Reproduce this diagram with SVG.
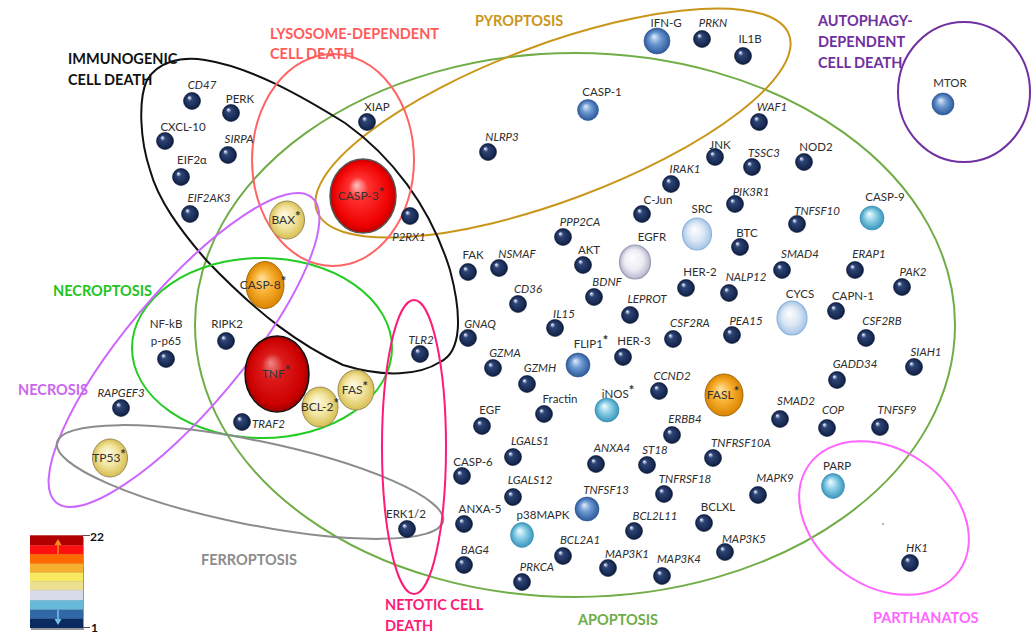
<svg xmlns="http://www.w3.org/2000/svg" width="1035" height="633" viewBox="0 0 1035 633">
<defs>
<radialGradient id="gNavy" cx="0.5" cy="0.5" r="0.5" fx="0.32" fy="0.28"><stop offset="0" stop-color="#ffffff"/><stop offset="0.13" stop-color="#a8b4d0"/><stop offset="0.3" stop-color="#2e4476"/><stop offset="0.85" stop-color="#15284f"/><stop offset="1" stop-color="#0a1838"/></radialGradient>
<radialGradient id="gMed" cx="0.5" cy="0.5" r="0.5" fx="0.38" fy="0.32"><stop offset="0" stop-color="#e2ecf8"/><stop offset="0.45" stop-color="#6d9ad2"/><stop offset="1" stop-color="#2d5a9a"/></radialGradient>
<radialGradient id="gCyan" cx="0.5" cy="0.5" r="0.5" fx="0.38" fy="0.32"><stop offset="0" stop-color="#f6fdff"/><stop offset="0.45" stop-color="#90d2e8"/><stop offset="1" stop-color="#3896bc"/></radialGradient>
<radialGradient id="gPale" cx="0.5" cy="0.5" r="0.5" fx="0.4" fy="0.35"><stop offset="0" stop-color="#ffffff"/><stop offset="0.55" stop-color="#dce8f5"/><stop offset="1" stop-color="#a6c5e6"/></radialGradient>
<radialGradient id="gLav" cx="0.5" cy="0.5" r="0.5" fx="0.4" fy="0.35"><stop offset="0" stop-color="#ffffff"/><stop offset="0.6" stop-color="#ececf4"/><stop offset="1" stop-color="#b6b6cc"/></radialGradient>
<radialGradient id="gYel" cx="0.5" cy="0.5" r="0.5" fx="0.4" fy="0.35"><stop offset="0" stop-color="#fffbe4"/><stop offset="0.55" stop-color="#f2e4a0"/><stop offset="1" stop-color="#d8bf52"/></radialGradient>
<radialGradient id="gOr" cx="0.5" cy="0.5" r="0.5" fx="0.4" fy="0.35"><stop offset="0" stop-color="#ffe2a0"/><stop offset="0.5" stop-color="#f8b030"/><stop offset="1" stop-color="#dc8400"/></radialGradient>
<radialGradient id="gRed" cx="0.5" cy="0.5" r="0.5" fx="0.4" fy="0.35"><stop offset="0" stop-color="#ffc4c4"/><stop offset="0.3" stop-color="#ff3030"/><stop offset="0.85" stop-color="#ee0000"/><stop offset="1" stop-color="#bb0000"/></radialGradient>
<radialGradient id="gDRed" cx="0.5" cy="0.5" r="0.5" fx="0.4" fy="0.35"><stop offset="0" stop-color="#ee8888"/><stop offset="0.35" stop-color="#dc1a1a"/><stop offset="0.85" stop-color="#cc0000"/><stop offset="1" stop-color="#990000"/></radialGradient>
</defs>
<style>
.reg{fill:none;stroke-width:2}
.rt{font-family:Lato,'Liberation Sans',sans-serif;font-weight:bold;font-size:14.5px}
.lb{font-family:Lato,'Liberation Sans',sans-serif;font-size:11.5px;fill:#2e2e2e;text-anchor:middle}
.st{text-anchor:start}
.it{font-style:italic}
.in{font-family:Lato,'Liberation Sans',sans-serif;font-size:12px;fill:#333;text-anchor:middle}
.sup{font-size:13px;font-weight:bold}
.navy{fill:url(#gNavy);stroke:#0a1838;stroke-width:0.6}
.med{fill:url(#gMed);stroke:#2a5090;stroke-width:0.6}
.cyan{fill:url(#gCyan);stroke:#3a8ab0;stroke-width:0.6}
.pale{fill:url(#gPale);stroke:#8eb4dc;stroke-width:1.2}
.lav{fill:url(#gLav);stroke:#9c9cb4;stroke-width:1.2}
.yel{fill:url(#gYel);stroke:#9a8a5a;stroke-width:1}
.or{fill:url(#gOr);stroke:#a06a10;stroke-width:1}
.red{fill:url(#gRed);stroke:#555;stroke-width:1.5}
.dred{fill:url(#gDRed);stroke:#111;stroke-width:1.5}
</style>
<rect width="1035" height="633" fill="#ffffff"/>
<g id="regions">
<g id="region-apoptosis"><ellipse class="reg" cx="575" cy="325" rx="380" ry="272" stroke="#70ad47"/><text class="rt" x="578" y="625" fill="#70ad47">APOPTOSIS</text></g>
<g id="region-pyroptosis"><ellipse class="reg" cx="553" cy="123" rx="252" ry="78" transform="rotate(-20.5 553 123)" stroke="#c9961a"/><text class="rt" x="475" y="26" fill="#c9961a">PYROPTOSIS</text></g>
<g id="region-immunogenic"><path class="reg" stroke="#111" d="M147,80 C158,62 180,56 205,60 C250,67 300,95 345,123 C390,155 430,205 450,270 C462,315 462,352 440,362 C420,375 385,378 343,365 C300,345 260,316 207,261 C180,230 158,200 150,170 C140,140 138,100 147,80 Z"/><text class="rt" x="68" y="64" fill="#111">IMMUNOGENIC</text><text class="rt" x="68" y="85" fill="#111">CELL DEATH</text></g>
<g id="region-lysosome"><ellipse class="reg" cx="333" cy="160" rx="81" ry="106" stroke="#ff6464"/><text class="rt" x="270" y="39" fill="#ff5b5b">LYSOSOME-DEPENDENT</text><text class="rt" x="270" y="59" fill="#ff5b5b">CELL DEATH</text></g>
<g id="region-autophagy"><ellipse class="reg" cx="964" cy="92" rx="66" ry="70" stroke="#7030a0"/><text class="rt" x="818" y="26" fill="#7030a0">AUTOPHAGY-</text><text class="rt" x="818" y="47" fill="#7030a0">DEPENDENT</text><text class="rt" x="818" y="68" fill="#7030a0">CELL DEATH</text></g>
<g id="region-necroptosis"><ellipse class="reg" cx="262" cy="348" rx="130" ry="90" stroke="#22cc22"/><text class="rt" x="53" y="296" fill="#22c422">NECROPTOSIS</text></g>
<g id="region-necrosis"><ellipse class="reg" cx="184" cy="350" rx="199" ry="58" transform="rotate(-50 184 350)" stroke="#cc66ff"/><text class="rt" x="18" y="395" fill="#cc66ee">NECROSIS</text></g>
<g id="region-ferroptosis"><ellipse class="reg" cx="250" cy="482" rx="197" ry="42" transform="rotate(11.5 250 482)" stroke="#8c8c8c"/><text class="rt" x="201" y="565" fill="#8c8c8c">FERROPTOSIS</text></g>
<g id="region-netotic"><ellipse class="reg" cx="414" cy="447" rx="32" ry="147" stroke="#ff1a75"/><text class="rt" x="385" y="610" fill="#ff1a75">NETOTIC CELL</text><text class="rt" x="385" y="631" fill="#ff1a75">DEATH</text></g>
<g id="region-parthanatos"><ellipse class="reg" cx="884" cy="518" rx="92" ry="68" transform="rotate(35 884 518)" stroke="#ff66ff"/><text class="rt" x="873" y="623" fill="#ff66ff">PARTHANATOS</text></g>
</g>
<g id="connectors"/>
<g id="nodes">
<g id="n-CD47"><circle class="navy" cx="192" cy="101" r="8.5"/><text class="lb it" x="202" y="89">CD47</text></g>
<g id="n-PERK"><circle class="navy" cx="231" cy="113" r="8.5"/><text class="lb" x="240" y="103">PERK</text></g>
<g id="n-CXCL-10"><circle class="navy" cx="165" cy="141" r="8.5"/><text class="lb" x="183" y="131">CXCL-10</text></g>
<g id="n-SIRPA"><circle class="navy" cx="228" cy="155" r="8.5"/><text class="lb it" x="239" y="143">SIRPA</text></g>
<g id="n-EIF2a"><circle class="navy" cx="181" cy="177" r="8.5"/><text class="lb" x="192" y="164">EIF2α</text></g>
<g id="n-EIF2AK3"><circle class="navy" cx="190" cy="214" r="8.5"/><text class="lb it" x="209" y="202">EIF2AK3</text></g>
<g id="n-XIAP"><circle class="navy" cx="367" cy="122" r="8.5"/><text class="lb" x="377" y="111">XIAP</text></g>
<g id="n-P2RX1"><circle class="navy" cx="410" cy="216" r="8.5"/><text class="lb it" x="409" y="241">P2RX1</text></g>
<g id="n-NLRP3"><circle class="navy" cx="488" cy="152" r="8.5"/><text class="lb it" x="502" y="141">NLRP3</text></g>
<g id="n-PRKN"><circle class="navy" cx="702" cy="39" r="8.5"/><text class="lb it" x="713" y="27">PRKN</text></g>
<g id="n-IL1B"><circle class="navy" cx="743" cy="56" r="8.5"/><text class="lb" x="750" y="43">IL1B</text></g>
<g id="n-WAF1"><circle class="navy" cx="759" cy="122" r="8.5"/><text class="lb it" x="772" y="111">WAF1</text></g>
<g id="n-JNK"><circle class="navy" cx="715" cy="157" r="8.5"/><text class="lb" x="720" y="149">JNK</text></g>
<g id="n-TSSC3"><circle class="navy" cx="752" cy="167" r="8.5"/><text class="lb it" x="764" y="157">TSSC3</text></g>
<g id="n-NOD2"><circle class="navy" cx="804" cy="162" r="8.5"/><text class="lb" x="816" y="151">NOD2</text></g>
<g id="n-IRAK1"><circle class="navy" cx="671" cy="184" r="8.5"/><text class="lb it" x="685" y="173">IRAK1</text></g>
<g id="n-C-Jun"><circle class="navy" cx="642" cy="214" r="8.5"/><text class="lb" x="658" y="204">C-Jun</text></g>
<g id="n-PIK3R1"><circle class="navy" cx="735" cy="204" r="8.5"/><text class="lb it" x="751" y="196">PIK3R1</text></g>
<g id="n-TNFSF10"><circle class="navy" cx="797" cy="224" r="8.5"/><text class="lb it" x="817" y="215">TNFSF10</text></g>
<g id="n-BTC"><circle class="navy" cx="740" cy="247" r="8.5"/><text class="lb" x="747" y="237">BTC</text></g>
<g id="n-PPP2CA"><circle class="navy" cx="563" cy="237" r="8.5"/><text class="lb it" x="580" y="226">PPP2CA</text></g>
<g id="n-AKT"><circle class="navy" cx="583" cy="265" r="8.5"/><text class="lb" x="589" y="254">AKT</text></g>
<g id="n-FAK"><circle class="navy" cx="468" cy="272" r="8.5"/><text class="lb" x="473" y="259">FAK</text></g>
<g id="n-NSMAF"><circle class="navy" cx="499" cy="268" r="8.5"/><text class="lb it" x="517" y="258">NSMAF</text></g>
<g id="n-CD36"><circle class="navy" cx="518" cy="304" r="8.5"/><text class="lb it" x="528" y="293">CD36</text></g>
<g id="n-BDNF"><circle class="navy" cx="594" cy="297" r="8.5"/><text class="lb it" x="607" y="286">BDNF</text></g>
<g id="n-LEPROT"><circle class="navy" cx="630" cy="315" r="8.5"/><text class="lb it" x="647" y="303">LEPROT</text></g>
<g id="n-HER-2"><circle class="navy" cx="686" cy="288" r="8.5"/><text class="lb" x="700" y="276">HER-2</text></g>
<g id="n-NALP12"><circle class="navy" cx="729" cy="293" r="8.5"/><text class="lb it" x="746" y="281">NALP12</text></g>
<g id="n-SMAD4"><circle class="navy" cx="782" cy="270" r="8.5"/><text class="lb it" x="800" y="258">SMAD4</text></g>
<g id="n-ERAP1"><circle class="navy" cx="855" cy="270" r="8.5"/><text class="lb it" x="869" y="258">ERAP1</text></g>
<g id="n-PAK2"><circle class="navy" cx="902" cy="287" r="8.5"/><text class="lb it" x="913" y="276">PAK2</text></g>
<g id="n-CAPN-1"><circle class="navy" cx="836" cy="311" r="8.5"/><text class="lb" x="853" y="300">CAPN-1</text></g>
<g id="n-PEA15"><circle class="navy" cx="732" cy="335" r="8.5"/><text class="lb it" x="746" y="325">PEA15</text></g>
<g id="n-CSF2RB"><circle class="navy" cx="866" cy="338" r="8.5"/><text class="lb it" x="882" y="325">CSF2RB</text></g>
<g id="n-CSF2RA"><circle class="navy" cx="673" cy="339" r="8.5"/><text class="lb it" x="690" y="327">CSF2RA</text></g>
<g id="n-GNAQ"><circle class="navy" cx="468" cy="338" r="8.5"/><text class="lb it" x="480" y="328">GNAQ</text></g>
<g id="n-IL15"><circle class="navy" cx="555" cy="328" r="8.5"/><text class="lb it" x="564" y="318">IL15</text></g>
<g id="n-HER-3"><circle class="navy" cx="623" cy="357" r="8.5"/><text class="lb" x="634" y="345">HER-3</text></g>
<g id="n-GZMA"><circle class="navy" cx="493" cy="368" r="8.5"/><text class="lb it" x="505" y="357">GZMA</text></g>
<g id="n-GZMH"><circle class="navy" cx="527" cy="384" r="8.5"/><text class="lb it" x="540" y="372">GZMH</text></g>
<g id="n-CCND2"><circle class="navy" cx="659" cy="391" r="8.5"/><text class="lb it" x="672" y="380">CCND2</text></g>
<g id="n-Fractin"><circle class="navy" cx="544" cy="414" r="8.5"/><text class="lb" x="560" y="403">Fractin</text></g>
<g id="n-EGF"><circle class="navy" cx="482" cy="426" r="8.5"/><text class="lb" x="490" y="414">EGF</text></g>
<g id="n-ERBB4"><circle class="navy" cx="672" cy="435" r="8.5"/><text class="lb it" x="685" y="423">ERBB4</text></g>
<g id="n-SIAH1"><circle class="navy" cx="914" cy="367" r="8.5"/><text class="lb it" x="926" y="356">SIAH1</text></g>
<g id="n-GADD34"><circle class="navy" cx="837" cy="380" r="8.5"/><text class="lb it" x="855" y="368">GADD34</text></g>
<g id="n-SMAD2"><circle class="navy" cx="780" cy="419" r="8.5"/><text class="lb it" x="796" y="405">SMAD2</text></g>
<g id="n-COP"><circle class="navy" cx="827" cy="428" r="8.5"/><text class="lb it" x="833" y="414">COP</text></g>
<g id="n-TNFSF9"><circle class="navy" cx="880" cy="427" r="8.5"/><text class="lb it" x="897" y="414">TNFSF9</text></g>
<g id="n-TNFRSF10A"><circle class="navy" cx="713" cy="458" r="8.5"/><text class="lb it" x="741" y="447">TNFRSF10A</text></g>
<g id="n-MAPK9"><circle class="navy" cx="758" cy="495" r="8.5"/><text class="lb it" x="775" y="482">MAPK9</text></g>
<g id="n-BCLXL"><circle class="navy" cx="704" cy="523" r="8.5"/><text class="lb" x="718" y="511">BCLXL</text></g>
<g id="n-MAP3K5"><circle class="navy" cx="725" cy="552" r="8.5"/><text class="lb it" x="744" y="543">MAP3K5</text></g>
<g id="n-HK1"><circle class="navy" cx="910" cy="563" r="8.5"/><text class="lb it" x="917" y="552">HK1</text></g>
<g id="n-LGALS1"><circle class="navy" cx="513" cy="457" r="8.5"/><text class="lb it" x="530" y="445">LGALS1</text></g>
<g id="n-ANXA4"><circle class="navy" cx="596" cy="464" r="8.5"/><text class="lb it" x="612" y="452">ANXA4</text></g>
<g id="n-ST18"><circle class="navy" cx="647" cy="465" r="8.5"/><text class="lb it" x="655" y="454">ST18</text></g>
<g id="n-TNFRSF18"><circle class="navy" cx="664" cy="494" r="8.5"/><text class="lb it" x="685" y="483">TNFRSF18</text></g>
<g id="n-CASP-6"><circle class="navy" cx="462" cy="476" r="8.5"/><text class="lb" x="473" y="466">CASP-6</text></g>
<g id="n-LGALS12"><circle class="navy" cx="513" cy="497" r="8.5"/><text class="lb it" x="530" y="484">LGALS12</text></g>
<g id="n-ANXA-5"><circle class="navy" cx="464" cy="524" r="8.5"/><text class="lb" x="480" y="513">ANXA-5</text></g>
<g id="n-BCL2L11"><circle class="navy" cx="634" cy="531" r="8.5"/><text class="lb it" x="655" y="520">BCL2L11</text></g>
<g id="n-BCL2A1"><circle class="navy" cx="563" cy="556" r="8.5"/><text class="lb it" x="580" y="544">BCL2A1</text></g>
<g id="n-BAG4"><circle class="navy" cx="464" cy="565" r="8.5"/><text class="lb it" x="475" y="554">BAG4</text></g>
<g id="n-MAP3K1"><circle class="navy" cx="608" cy="568" r="8.5"/><text class="lb it" x="627" y="558">MAP3K1</text></g>
<g id="n-PRKCA"><circle class="navy" cx="522" cy="582" r="8.5"/><text class="lb it" x="537" y="571">PRKCA</text></g>
<g id="n-MAP3K4"><circle class="navy" cx="662" cy="576" r="8.5"/><text class="lb it" x="679" y="563">MAP3K4</text></g>
<g id="n-ERK1-2"><circle class="navy" cx="407" cy="529" r="8.5"/><text class="lb" x="406" y="518">ERK1/2</text></g>
<g id="n-TLR2"><circle class="navy" cx="420" cy="354" r="8.5"/><text class="lb it" x="421" y="344">TLR2</text></g>
<g id="n-TRAF2"><circle class="navy" cx="242" cy="422" r="8.5"/><text class="lb it st" x="252" y="428">TRAF2</text></g>
<g id="n-RAPGEF3"><circle class="navy" cx="121" cy="408" r="8.5"/><text class="lb it" x="121" y="397">RAPGEF3</text></g>
<g id="n-NF-kB"><circle class="navy" cx="166" cy="359" r="8.5"/><text class="lb" x="166" y="328">NF-kB</text><text class="lb" x="166" y="345">p-p65</text></g>
<g id="n-RIPK2"><circle class="navy" cx="226" cy="341" r="8.5"/><text class="lb" x="227" y="328">RIPK2</text></g>
<g id="n-IFN-G"><circle class="med" cx="657" cy="41" r="13"/><text class="lb" x="666" y="27">IFN-G</text></g>
<g id="n-CASP-1"><circle class="med" cx="588" cy="110" r="10.5"/><text class="lb" x="602" y="96">CASP-1</text></g>
<g id="n-MTOR"><circle class="med" cx="943" cy="104" r="11"/><text class="lb" x="950" y="87">MTOR</text></g>
<g id="n-FLIP1"><circle class="med" cx="578" cy="365" r="12"/><text class="lb" x="591" y="348">FLIP1<tspan class="sup" dy="-3">*</tspan></text></g>
<g id="n-TNFSF13"><circle class="med" cx="587" cy="509" r="12"/><text class="lb it" x="606" y="494">TNFSF13</text></g>
<g id="n-CASP-9"><circle class="cyan" cx="872" cy="218" r="12"/><text class="lb" x="885" y="201">CASP-9</text></g>
<g id="n-iNOS"><circle class="cyan" cx="607" cy="410" r="12"/><text class="lb" x="618" y="398">iNOS<tspan class="sup" dy="-3">*</tspan></text></g>
<g id="n-PARP"><ellipse class="cyan" cx="833" cy="486" rx="11.5" ry="12.5"/><text class="lb" x="837" y="470">PARP</text></g>
<g id="n-p38MAPK"><ellipse class="cyan" cx="522" cy="535" rx="11.5" ry="12.5"/><text class="lb" x="543" y="519">p38MAPK</text></g>
<g id="n-SRC"><ellipse class="pale" cx="697" cy="234" rx="14.5" ry="16"/><text class="lb" x="702" y="213">SRC</text></g>
<g id="n-CYCS"><ellipse class="pale" cx="792" cy="318" rx="15" ry="17"/><text class="lb" x="800" y="298">CYCS</text></g>
<g id="n-EGFR"><ellipse class="lav" cx="635" cy="262" rx="15.5" ry="17"/><text class="lb" x="652" y="241">EGFR</text></g>
<g id="n-BAX"><ellipse class="yel" cx="287" cy="220" rx="17.5" ry="19"/><text class="in" x="286" y="224">BAX<tspan class="sup" dy="-3">*</tspan></text></g>
<g id="n-TP53"><ellipse class="yel" cx="110" cy="458" rx="17.5" ry="19"/><text class="in" x="109" y="462">TP53<tspan class="sup" dy="-3">*</tspan></text></g>
<g id="n-BCL-2"><ellipse class="yel" cx="320" cy="407" rx="18" ry="20"/><text class="in" x="320" y="411">BCL-2<tspan class="sup" dy="-3">*</tspan></text></g>
<g id="n-FAS"><ellipse class="yel" cx="356" cy="390" rx="18" ry="20"/><text class="in" x="355" y="394">FAS<tspan class="sup" dy="-3">*</tspan></text></g>
<g id="n-CASP-8"><ellipse class="or" cx="265" cy="285" rx="19" ry="23.5"/><text class="in" x="263" y="289">CASP-8<tspan class="sup" dy="-3">*</tspan></text></g>
<g id="n-FASL"><ellipse class="or" cx="724" cy="395" rx="19" ry="21"/><text class="in" x="723" y="399">FASL<tspan class="sup" dy="-3">*</tspan></text></g>
<g id="n-CASP-3"><ellipse class="red" cx="363" cy="196" rx="33" ry="37"/><text class="in" x="361" y="200">CASP-3<tspan class="sup" dy="-3">*</tspan></text></g>
<g id="n-TNF"><ellipse class="dred" cx="277" cy="374" rx="32" ry="38"/><text class="in" x="276" y="378">TNF<tspan class="sup" dy="-3">*</tspan></text></g>
<circle id="dot" cx="883" cy="524" r="1" fill="#999"/>
</g>
<g id="legend">
<rect x="31" y="537" width="53" height="93" fill="#999"/>
<rect x="30" y="535.3" width="53" height="10" fill="#b00000"/>
<rect x="30" y="545.3" width="53" height="9.1" fill="#ff1010"/>
<rect x="30" y="554.3" width="53" height="9.5" fill="#ff6a00"/>
<rect x="30" y="563.7" width="53" height="9.1" fill="#f5b030"/>
<rect x="30" y="572.7" width="53" height="8.7" fill="#f8ea60"/>
<rect x="30" y="581.3" width="53" height="9.1" fill="#ece090"/>
<rect x="30" y="590.3" width="53" height="10.1" fill="#d8dce8"/>
<rect x="30" y="600.3" width="53" height="9.5" fill="#68b8d8"/>
<rect x="30" y="609.7" width="53" height="9.1" fill="#3068a8"/>
<rect x="30" y="618.7" width="53" height="9.3" fill="#0a2a60"/>
<line x1="58" y1="554" x2="58" y2="544" stroke="#ff8c1a" stroke-width="1.5"/>
<polygon points="54.5,545 61.5,545 58,539" fill="#ff8c1a"/>
<line x1="58" y1="610" x2="58" y2="620" stroke="#70c4e4" stroke-width="1.5"/>
<polygon points="54.5,619 61.5,619 58,625" fill="#70c4e4"/>
<line x1="83" y1="535.5" x2="90" y2="535.5" stroke="#555" stroke-width="1"/>
<line x1="83" y1="627.5" x2="90" y2="627.5" stroke="#555" stroke-width="1"/>
<text x="90" y="541" font-family="Lato,'Liberation Sans',sans-serif" font-weight="bold" font-size="12px" fill="#111">22</text>
<text x="91" y="632" font-family="Lato,'Liberation Sans',sans-serif" font-weight="bold" font-size="12px" fill="#111">1</text>
</g>
</svg>
